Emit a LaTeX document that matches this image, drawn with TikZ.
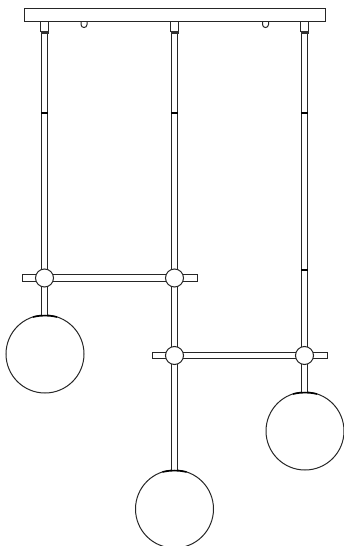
\documentclass[tikz,border=0pt]{standalone}
\tikzset{
  ln/.style={draw=black!85,line width=1pt},
  rod/.style={draw=black!85,line width=1.05pt,double=white,double distance=5.2pt},
  crossbar/.style={ln,fill=white},
  hub/.style={circle,ln,fill=white,minimum size=18pt,inner sep=0pt},
  globe/.style={circle,ln,fill=white,minimum size=78pt,inner sep=0pt},
  jointmark/.style={draw=black,line width=1.1pt},
  globecap/.style={draw=black,line width=1.6pt},
}
\begin{document}
\begin{tikzpicture}[x=1pt,y=-1pt]
\useasboundingbox (0,0) rectangle (344,546);
\clip (0,0) rectangle (344,546);
% anchor points on the canopy
\coordinate (topL) at (44.5,34);
\coordinate (topC) at (174.5,34);
\coordinate (topR) at (304.5,34);
% globes
\node[globe] (gL) at (45,354) {};
\node[globe] (gR) at (305,431) {};
\node[globe] (gB) at (174.5,509) {};
% hubs positions
\coordinate (hA) at (44.5,278);
\coordinate (hB) at (174.5,278);
\coordinate (hC) at (174.5,355.5);
\coordinate (hD) at (304.5,355.5);
% rods
\draw[rod] (topL) -- (hA);
\draw[rod] (hA) -- (44.5,315.3);
\draw[rod] (topC) -- (174.5,470.3);
\draw[rod] (topR) -- (304.5,392.3);
% crossbars
\draw[crossbar] (22.5,274.7) rectangle (197,281.3);
\draw[crossbar] (152.5,352.2) rectangle (327,358.8);
% hubs
\node[hub] (a) at (hA) {};
\node[hub] (b) at (hB) {};
\node[hub] (c) at (hC) {};
\node[hub] (d) at (hD) {};
% rod joints
\foreach \x/\y in {44.5/113,174.5/113,304.5/113,304.5/270}
  \draw[jointmark] (\x-3.4,\y) -- (\x+3.4,\y);
% globe caps
\draw[globecap] (33,317) to[bend left=12] (57,317);
\draw[globecap] (293,394) to[bend left=12] (317,394);
\draw[globecap] (162.5,472) to[bend left=12] (186.5,472);
% canopy
\draw[crossbar] (24,8) rectangle (325.5,21);
% collars
\foreach \x in {44.5,174.5,304.5}{
  \draw[ln] (\x-4,21) -- (\x-4,31) -- (\x+4,31) -- (\x+4,21);
  \fill[black!80] (\x-4,31) rectangle (\x+4,34);
}
% small hooks
\foreach \x in {84,265.5}
  \draw[ln] (\x-3,21.5) -- (\x-3,24.5) .. controls (\x-3,28.5) and (\x+3,28.5) .. (\x+3,24.5) -- (\x+3,21.5);
\end{tikzpicture}
\end{document}
